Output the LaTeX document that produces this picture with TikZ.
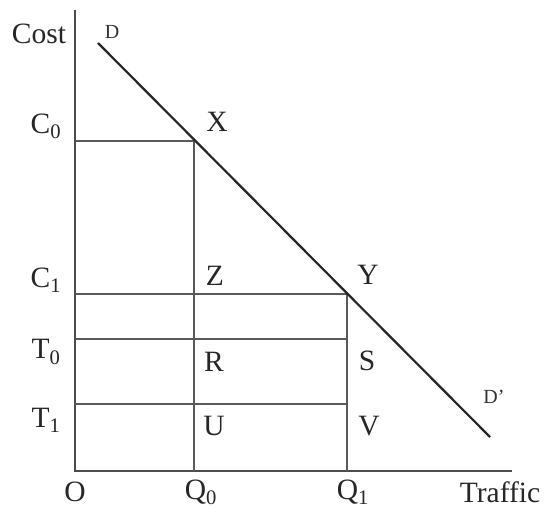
\documentclass[tikz,border=0pt]{standalone}
\usepackage{fontspec}
\setmainfont{Liberation Serif}
\begin{document}
\begin{tikzpicture}[x=1pt,y=-1pt,
  axis/.style={draw=black!70,line width=1.8pt},
  grid/.style={draw=black!65,line width=1.6pt},
  demand/.style={draw=black!85,line width=2.2pt},
  lbl/.style={font=\fontsize{29.5}{33}\selectfont,text=black!85,inner sep=0pt},
  small/.style={font=\fontsize{20}{23}\selectfont,text=black!80,inner sep=0pt}]
\useasboundingbox (0,0) rectangle (549,508);
% key points
\coordinate (top) at (75,10);
\coordinate (O) at (75,471);
\coordinate (xend) at (512,471);
\coordinate (c0) at (75,141);
\coordinate (X) at (194,141);
\coordinate (q0) at (194,471);
\coordinate (c1) at (75,294);
\coordinate (Y) at (347,294);
\coordinate (q1) at (347,471);
\coordinate (t0) at (75,339);
\coordinate (s) at (347,339);
\coordinate (t1) at (75,404);
\coordinate (v) at (347,404);
\coordinate (dstart) at (98,43);
\coordinate (dend) at (490,437);
% axes
\draw[axis] (top) -- (O) -- (xend);
% grid lines
\draw[grid] (c0) -- (X) -- (q0);
\draw[grid] (c1) -- (Y) -- (q1);
\draw[grid] (t0) -- (s);
\draw[grid] (t1) -- (v);
% demand curve
\draw[demand] (dstart) -- (dend);
% labels
\node[lbl] (cost) at (39,34) {Cost};
\node[small] (D) at (112,32) {D};
\node[small] (Dp) at (494,397) {D'};
\node[lbl] (C0) at (46,126) {C\textsubscript{0}};
\node[lbl] (C1) at (46,280) {C\textsubscript{1}};
\node[lbl] (T0) at (46,352) {T\textsubscript{0}};
\node[lbl] (T1) at (46,420) {T\textsubscript{1}};
\node[lbl] (Xl) at (217,122) {X};
\node[lbl] (Zl) at (215,276) {Z};
\node[lbl] (Yl) at (368,275) {Y};
\node[lbl] (Rl) at (214,362) {R};
\node[lbl] (Sl) at (367,361) {S};
\node[lbl] (Ul) at (214,426) {U};
\node[lbl] (Vl) at (369,426) {V};
\node[lbl] (Ol) at (75,492) {O};
\node[lbl] (Q0) at (201,492) {Q\textsubscript{0}};
\node[lbl] (Q1) at (353,492) {Q\textsubscript{1}};
\node[lbl] (traffic) at (500,492) {Traffic};
\end{tikzpicture}
\end{document}
